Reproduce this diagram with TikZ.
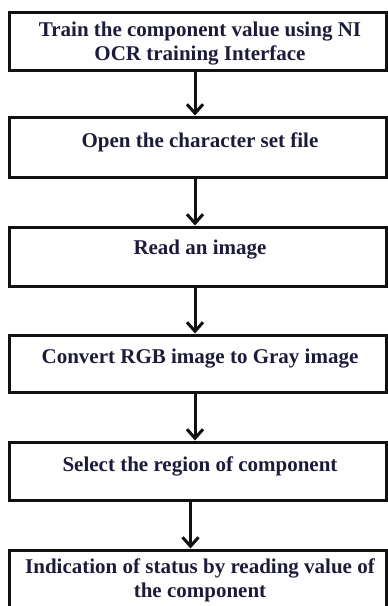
\documentclass[tikz,border=0pt]{standalone}
\usepackage{fontspec}
\setmainfont{Liberation Serif}
\usetikzlibrary{arrows.meta}
\definecolor{inkline}{HTML}{111111}
\definecolor{inktext}{HTML}{1C1C3A}
\begin{document}
\begin{tikzpicture}[x=1pt,y=-1pt,
  stepbox/.style={draw=inkline, line width=3pt, minimum width=377pt, inner sep=0pt},
  steptext/.style={text=inktext, font=\bfseries\fontsize{21}{24}\selectfont,
                   align=center, anchor=base, inner sep=0pt},
  flow/.style={draw=inkline, line width=3pt, -{Straight Barb[length=9pt,width=16pt]}}]
\clip (0,0) rectangle (388,606);

% process boxes
\node[stepbox, minimum height=58pt] (b1) at (197.5,41)    {};
\node[stepbox, minimum height=60pt] (b2) at (197.5,147)   {};
\node[stepbox, minimum height=59pt] (b3) at (197.5,256.5) {};
\node[stepbox, minimum height=57pt] (b4) at (197.5,363.5) {};
\node[stepbox, minimum height=58pt] (b5) at (197.5,471)   {};
\node[stepbox, minimum height=70pt] (b6) at (197.5,585)   {};

% box captions (base anchor = baseline of the last line)
\node[steptext] (t1) at (200,60)  {Train the component value using NI\\OCR training Interface};
\node[steptext] (t2) at (200,147) {Open the character set file};
\node[steptext] (t3) at (200,254) {Read an image};
\node[steptext] (t4) at (200,363) {Convert RGB image to Gray image};
\node[steptext] (t5) at (200,471) {Select the region of component};
\node[steptext] (t6) at (200,597) {Indication of status by reading value of\\the component};

% flow arrows
\draw[flow] ([xshift=-2.5pt]b1.south) -- ([xshift=-2.5pt]b2.north);
\draw[flow] ([xshift=-2.5pt]b2.south) -- ([xshift=-2.5pt]b3.north);
\draw[flow] ([xshift=-2.5pt]b3.south) -- ([xshift=-2.5pt]b4.north);
\draw[flow] ([xshift=-2.5pt]b4.south) -- ([xshift=-2.5pt]b5.north);
\draw[flow] ([xshift=-7pt]b5.south) -- ([xshift=-7pt]b6.north);
\end{tikzpicture}
\end{document}
